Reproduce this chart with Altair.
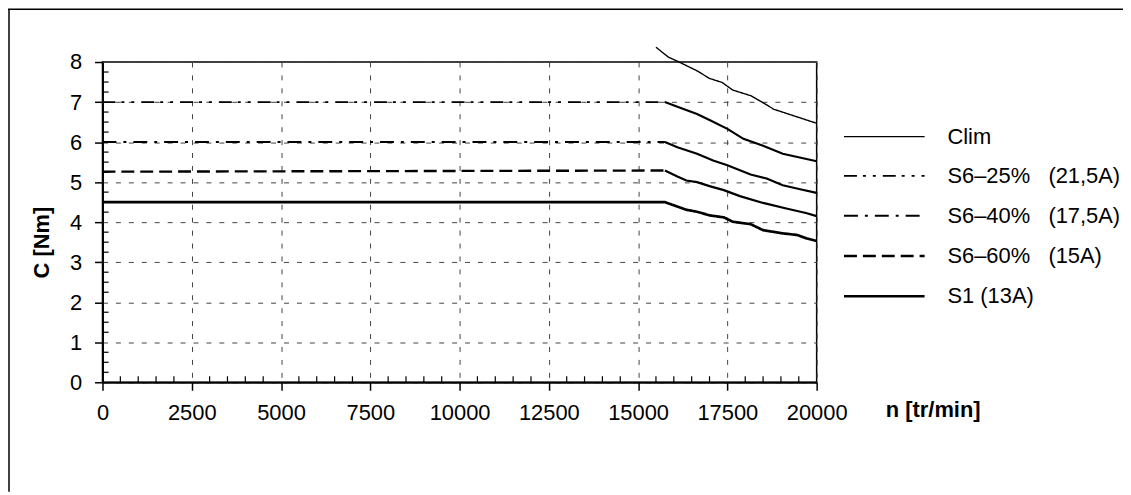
import altair as alt
import pandas as pd

# ---------------- data ----------------
names = [
    "Clim",
    "S6–25%\u00a0\u00a0\u00a0(21,5A)",
    "S6–40%\u00a0\u00a0\u00a0(17,5A)",
    "S6–60%\u00a0\u00a0\u00a0(15A)",
    "S1 (13A)",
]

clim_n = [15500, 15850, 16100, 16650, 17000, 17350, 17650, 18150, 18450, 18800, 19450, 20000]
clim_c = [8.37, 8.12, 8.02, 7.78, 7.59, 7.49, 7.30, 7.16, 7.01, 6.82, 6.63, 6.47]

s625_n = [0, 15750, 16100, 16650, 17000, 17500, 17950, 18500, 19050, 20000]
s625_c = [7.0, 7.0, 6.88, 6.70, 6.55, 6.33, 6.08, 5.91, 5.71, 5.52]

s640_n = [0, 15750, 16100, 16650, 17100, 17500, 18150, 18600, 19050, 19600, 20000]
s640_c = [6.0, 6.0, 5.87, 5.71, 5.54, 5.42, 5.19, 5.09, 4.92, 4.81, 4.73]

s660_n = [0, 15750, 16100, 16350, 16650, 17000, 17400, 17850, 18500, 19150, 19700, 20000]
s660_c = [5.26, 5.29, 5.14, 5.04, 5.00, 4.90, 4.80, 4.65, 4.48, 4.34, 4.23, 4.15]

s1_n = [0, 15750, 16350, 16650, 17000, 17400, 17650, 18150, 18500, 19050, 19450, 19700, 20000]
s1_c = [4.5, 4.5, 4.31, 4.26, 4.17, 4.12, 4.01, 3.95, 3.80, 3.72, 3.68, 3.60, 3.53]

x_ticks = [0, 2500, 5000, 7500, 10000, 12500, 15000, 17500, 20000]
y_ticks = [0, 1, 2, 3, 4, 5, 6, 7, 8]

# ---------------- styles ----------------
dashes = [[1, 0], [13, 6, 3, 7, 3, 7], [14, 7, 3, 7], [13, 6], [1, 0]]
widths = [1.4, 2.7, 2.7, 2.7, 1.6]
FONT = "Liberation Sans"
W, H = 718, 322

# ---------------- tables ----------------
series = [
    (names[0], clim_n, clim_c),
    (names[1], s625_n, s625_c),
    (names[2], s640_n, s640_c),
    (names[3], s660_n, s660_c),
    (names[4], s1_n, s1_c),
]
rows_a, rows_b = [], []
for i, (nm, ns, cs) in enumerate(series):
    dashed = i in (1, 2, 3)
    for j, (n, c) in enumerate(zip(ns, cs)):
        if dashed:
            if j <= 1:
                rows_a.append({"series": nm, "n": n, "c": c, "o": j})
            if j >= 1:
                rows_b.append({"series": nm, "n": n, "c": c, "o": j})
        else:
            rows_a.append({"series": nm, "n": n, "c": c, "o": j})
df_a = pd.DataFrame(rows_a)
df_b = pd.DataFrame(rows_b)

x_minor = pd.DataFrame({"n": [v for v in range(500, 20000, 500) if v % 2500]})
y_minor = pd.DataFrame({"c": [v / 4 for v in range(1, 32) if v % 4]})

xs = alt.Scale(domain=[0, 20000], nice=False, zero=False)
ys = alt.Scale(domain=[0, 8], nice=False)

# custom horizontal stroke symbol: 81 px long with symbolSize 400 (scale = sqrt(size)/2 = 10)
legend = alt.Legend(
    title=None, orient="none", legendX=744, legendY=64,
    symbolType="M-4.05,0H4.05", symbolSize=400, symbolStrokeColor="black",
    symbolFillColor="transparent", symbolOffset=30.5,
    labelFont=FONT, labelFontSize=22, labelColor="black", labelOffset=52,
    rowPadding=17.5, labelLimit=400,
)

lines_a = alt.Chart(df_a).mark_line(color="black", strokeCap="butt").encode(
    x=alt.X("n:Q", scale=xs, axis=alt.Axis(
        values=x_ticks, format="d", title="n [tr/min]", titleX=787, titleY=27,
        titleAlign="left", titleBaseline="middle", labelPadding=12,
        labelOverlap=False, labelFlush=False)),
    y=alt.Y("c:Q", scale=ys, axis=alt.Axis(
        values=y_ticks, title="C [Nm]", titleX=-61, titleY=181,
        titleAlign="center", titleBaseline="middle", labelPadding=13,
        labelFlush=False)),
    order="o:Q",
    detail="series:N",
    strokeDash=alt.StrokeDash("series:N", scale=alt.Scale(domain=names, range=dashes), legend=legend),
    strokeWidth=alt.StrokeWidth("series:N", scale=alt.Scale(domain=names, range=widths), legend=legend),
)

lines_b = alt.Chart(df_b).mark_line(color="black", strokeWidth=2.2).encode(
    x="n:Q", y="c:Q", order="o:Q", detail="series:N",
)

minor_x = alt.Chart(x_minor).mark_rule(color="black", strokeWidth=1.2).encode(
    x="n:Q", y=alt.datum(0), y2=alt.datum(0.15),
)
minor_y = alt.Chart(y_minor).mark_rule(color="black", strokeWidth=1.2).encode(
    y="c:Q", x=alt.datum(0), x2=alt.datum(170),
)

frame_top = alt.Chart(pd.DataFrame({"k": [0]})).mark_rule(color="black", strokeWidth=1.5).encode(
    x=alt.value(-95), x2=alt.value(W + 308), y=alt.value(-53),
)
frame_left = alt.Chart(pd.DataFrame({"k": [0]})).mark_rule(color="black", strokeWidth=1.5).encode(
    x=alt.value(-94), y=alt.value(-53), y2=alt.value(H + 110),
)

chart = alt.layer(minor_x, minor_y, lines_a, lines_b, frame_top, frame_left).properties(
    width=W, height=H,
    autosize=alt.AutoSizeParams(type="none"),
    padding={"left": 95, "top": 53, "right": 308, "bottom": 110},
    background="white",
).configure_view(
    stroke="black", strokeWidth=1.5,
).configure_axis(
    labelFont=FONT, labelFontSize=22, labelColor="black",
    titleFont=FONT, titleFontSize=22, titleFontWeight="bold", titleColor="black",
    domainColor="black", domainWidth=2, tickColor="black", tickSize=8, tickWidth=1.5,
    grid=True, gridColor="#444444", gridDash=[5, 8], gridWidth=1,
)

chart.save("out.html", embed_options={"renderer": "svg", "actions": False})
